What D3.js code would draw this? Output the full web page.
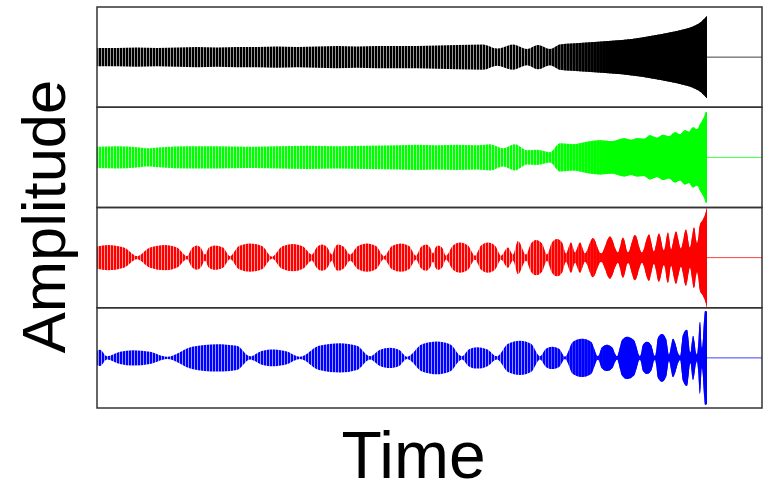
<!DOCTYPE html>
<html>
<head>
<meta charset="utf-8">
<script src="https://cdn.jsdelivr.net/npm/d3@7"></script>
<style>
  html, body { margin: 0; padding: 0; background: #fff; }
  svg { display: block; }
</style>
</head>
<body>
<svg id="chart" width="766" height="483"></svg>
<script>
// ---- DATA: envelope readings [time, amplitude] per channel (signal ends at t = 610) ----
const seriesNames = ["black", "green", "red", "blue"];
const seriesColors = ["#000000", "#00ff00", "#ff0000", "#0000ff"];
const signalEnd = 610;
const timeMax = 665;
const xLabel = "Time";
const yLabel = "Amplitude";

const blackEnv = [[0,9],[20,9],[40,9.5],[60,9],[80,9.5],[100,10],[120,9.5],[140,10],[160,10],[180,10.5],[200,10],[220,10.5],[240,11],[260,10.5],[280,11],[300,11],[320,11],[340,11.5],[360,12],[386,12.5],[400,8.5],[416,12.5],[430,8],[441,12],[453,8],[463,12.5],[475,13.5],[490,14.5],[505,15.5],[525,17],[545,19.5],[565,23],[580,26],[590,28.5],[598,31.5],[604,35],[608,39],[610,41]];

const greenEnv = [[0,10.5],[20,11],[40,10],[50,9],[65,10],[90,11],[120,11],[150,10.5],[180,11],[210,11.5],[240,11],[270,11.5],[300,12],[320,12.5],[340,12],[360,12.5],[380,12],[393,13],[406,9],[418,13],[430,7],[440,7.5],[453,5],[463,14],[476,13],[490,15.5],[503,17],[515,16],[527,19],[534,17.5],[540,19],[547,18.5],[553,22],[560,19.5],[566,22.5],[572,21],[578,25],[583,23],[588,27],[592,25.5],[596,30],[600,28],[603,33],[607,40],[609,45],[610,45]];

const redEnv = [[0,11],[11,12.5],[27,10],[40,1.5],[53,10],[68,12.5],[80,10],[90,1.5],[95,9.5],[100,12],[104,9.5],[108,3],[112,10],[118,12],[126,10],[133,1.5],[142,11.5],[153,14],[165,11.5],[175,1],[185,11],[196,13.5],[206,11],[215,3],[220,10.5],[225,13],[230,10.5],[235,3],[238,10.5],[241,13],[247,10.5],[253,3],[261,11.5],[270,14],[279,11.5],[287,1.5],[295,11.5],[304,14],[312,11.5],[319,2],[324,10.5],[329,13],[333,10],[336,4],[338.5,10],[341,12],[345,10],[349,2],[356,12],[363,15],[371,12],[378,2],[384,12],[391,15],[398,12],[404,2],[411,10],[416,3],[421,16.5],[429,3],[434,14],[439,17.5],[445,14],[450,3],[455,15],[460,18.5],[465,15],[469,4],[474,15],[478,5],[483,15],[488,4],[496,19.5],[504,4],[513,21],[521,5],[526,20],[531,5],[538,22.5],[545,5],[552,23],[557,6],[562,24],[567,7],[571,25],[574,8],[579,26],[584,9],[589,28],[593,10],[597,30],[600,14],[603,33],[606,38],[609,46],[610,50]];

const blueEnv = [[0,7],[3,8],[10,1.5],[23,6],[36,7.5],[53,6],[70,1],[95,11],[120,13.7],[140,12],[153,1.5],[164,6.5],[175,8.3],[189,6.5],[203,1],[222,12],[243,14.5],[260,12],[273,1.5],[283,8],[293,10],[302,8],[310,1],[325,13.5],[340,16.3],[353,13.5],[365,1.5],[372,8.5],[380,10.7],[390,8.5],[400,1.5],[411,14],[423,17],[434,14],[443,1.5],[449,9],[455,11],[462,9],[468,1],[476,16],[485,19],[494,16],[501,1.5],[505,10.5],[510,13],[515,10.5],[520,1.5],[525,17.5],[530,21],[537,17.5],[543,1.5],[546,13],[550,16],[554,13],[558,1.5],[561,20],[565,23.7],[569,19],[572,3],[576,19],[583,2],[586,23],[590,28],[593.5,5],[596,22],[600,3],[603,36],[605,10],[608,46.7],[610,46]];

const envelopes = [blackEnv, greenEnv, redEnv, blueEnv];

// ---- LAYOUT ----
const svg = d3.select("#chart");
const mLeft = 97, mRight = 762, mTop = 7, mBottom = 408;
const nPanels = envelopes.length;
const panelH = (mBottom - mTop) / nPanels;

const x = d3.scaleLinear().domain([0, timeMax]).range([mLeft, mRight]);

const defs = svg.append("defs");
seriesColors.forEach((c, i) => {
  const p = defs.append("pattern")
    .attr("id", "stripe" + i)
    .attr("patternUnits", "userSpaceOnUse")
    .attr("width", 3).attr("height", 10);
  p.append("rect").attr("width", 3).attr("height", 10).attr("fill", c).attr("fill-opacity", 0.4);
  p.append("rect").attr("width", 2).attr("height", 10).attr("fill", c);
});
// gradual transition from striped (sparse oscillation) to solid (dense oscillation)
const grad = defs.append("linearGradient")
  .attr("id", "solidGrad").attr("gradientUnits", "userSpaceOnUse")
  .attr("x1", x(420)).attr("x2", x(510)).attr("y1", 0).attr("y2", 0);
grad.append("stop").attr("offset", 0).attr("stop-color", "#fff").attr("stop-opacity", 0);
grad.append("stop").attr("offset", 1).attr("stop-color", "#fff").attr("stop-opacity", 1);
defs.append("mask").attr("id", "solidMask").attr("maskUnits", "userSpaceOnUse")
  .attr("x", 0).attr("y", 0).attr("width", 766).attr("height", 483)
  .append("rect").attr("x", 0).attr("y", 0).attr("width", 766).attr("height", 483)
  .attr("fill", "url(#solidGrad)");

envelopes.forEach((env, i) => {
  const y0 = mTop + i * panelH;
  const y = d3.scaleLinear().domain([-50, 50]).range([y0 + panelH, y0]);
  const g = svg.append("g");
  const area = d3.area()
    .x(d => x(d[0]))
    .y0(d => y(-d[1]))
    .y1(d => y(d[1]))
    .curve(d3.curveMonotoneX);
  g.append("path").datum(env).attr("d", area).attr("fill", "url(#stripe" + i + ")");
  g.append("path").datum(env).attr("d", area).attr("fill", seriesColors[i])
    .attr("mask", "url(#solidMask)");
  // flat line after the signal
  g.append("line")
    .attr("x1", x(signalEnd)).attr("x2", x(timeMax))
    .attr("y1", y(0)).attr("y2", y(0))
    .attr("stroke", seriesColors[i]).attr("stroke-width", 1).attr("stroke-opacity", 0.75);
  // panel frame
  svg.append("rect")
    .attr("x", mLeft).attr("y", y0)
    .attr("width", mRight - mLeft).attr("height", panelH)
    .attr("fill", "none").attr("stroke", "#333").attr("stroke-width", 1.5);
});

// ---- AXIS TITLES ----
svg.append("text")
  .attr("x", 413.5).attr("y", 478)
  .attr("text-anchor", "middle")
  .attr("font-family", "Liberation Sans, Arial, sans-serif")
  .attr("font-size", 66)
  .text(xLabel);

svg.append("text")
  .attr("transform", "translate(65,216.5) rotate(-90)")
  .attr("text-anchor", "middle")
  .attr("font-family", "Liberation Sans, Arial, sans-serif")
  .attr("font-size", 61.5)
  .text(yLabel);
</script>
</body>
</html>
